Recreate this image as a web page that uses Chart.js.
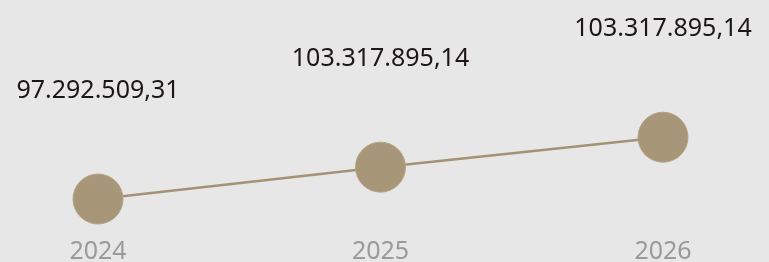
<!DOCTYPE html>
<html>
<head>
<meta charset="utf-8">
<script src="https://cdn.jsdelivr.net/npm/chart.js@4/dist/chart.umd.min.js"></script>
<style>
  html, body { margin: 0; padding: 0; background: #e7e7e7; }
  #wrap { width: 769px; height: 262px; position: relative; }
</style>
</head>
<body>
<div id="wrap"><canvas id="trend-chart"></canvas></div>
<script>
// categories, values and the printed labels above each point
const years = ['2024', '2025', '2026'];
const totals = [97292509.31, 103317895.14, 108970000];
const valueLabels = ['97.292.509,31', '103.317.895,14', '103.317.895,14'];

const LINE_COLOR = '#a39274';
const POINT_COLOR = '#a89679';

// draws the value text above each point
const valueLabelPlugin = {
    id: 'valueLabels',
    afterDatasetsDraw(chart) {
        const ctx = chart.ctx;
        const meta = chart.getDatasetMeta(0);
        ctx.save();
        ctx.font = '25px "Noto Sans"';
        ctx.fillStyle = '#1c1617';
        ctx.textAlign = 'center';
        ctx.textBaseline = 'middle';
        meta.data.forEach((pt, i) => {
            ctx.fillText(valueLabels[i], pt.x, pt.y - 108);
        });
        ctx.restore();
    }
};

const ctx = document.getElementById('trend-chart');
new Chart(ctx, {
    type: 'line',
    data: {
        labels: years,
        datasets: [{
            data: totals,
            borderColor: LINE_COLOR,
            borderWidth: 2.5,
            backgroundColor: POINT_COLOR,
            pointBackgroundColor: POINT_COLOR,
            pointBorderColor: '#b3a386',
            pointBorderWidth: 1,
            pointRadius: 25,
            pointHoverRadius: 25,
            tension: 0,
            clip: false
        }]
    },
    options: {
        responsive: true,
        maintainAspectRatio: false,
        animation: false,
        layout: { padding: { left: 98, right: 106, top: 20, bottom: 0 } },
        scales: {
            x: {
                offset: false,
                grid: { display: false, drawTicks: false },
                border: { display: false },
                afterFit(scale) { scale.height = 35; },
                ticks: {
                    color: '#9a9a9a',
                    padding: 19,
                    font: { family: 'Noto Sans', size: 25, lineHeight: '12px' }
                }
            },
            y: {
                display: false,
                min: 92000000,
                max: 130000000
            }
        },
        plugins: {
            legend: { display: false },
            tooltip: { enabled: false }
        }
    },
    plugins: [valueLabelPlugin]
});
</script>
</body>
</html>
